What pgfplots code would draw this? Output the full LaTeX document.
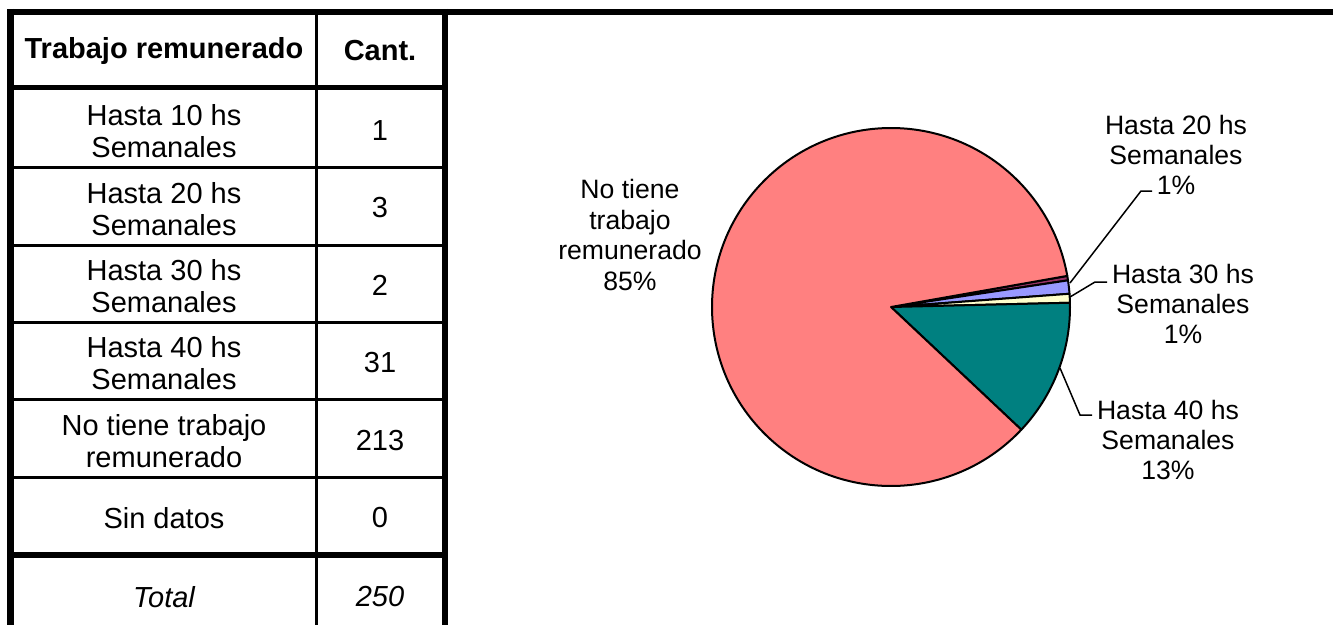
\documentclass[border=0pt]{standalone}
\usepackage{fontspec}
\setmainfont{Liberation Sans}
\usepackage{pgfplots}
\usepackage{pgfplotstable}
\pgfplotsset{compat=1.18}

\definecolor{rosa}{HTML}{FF8080}
\definecolor{verde}{HTML}{008080}
\definecolor{crema}{HTML}{FFFFCC}
\definecolor{lila}{HTML}{9999FF}
\definecolor{granate}{HTML}{993366}

\tikzset{
  tabla/.style={font=\fontsize{14.5bp}{16bp}\selectfont, align=center, inner sep=0pt},
  etiq/.style={font=\fontsize{13.3bp}{15.2bp}\selectfont, align=center, inner sep=0pt},
}

% cantidades por categoria (total 250)
\pgfplotstableread{
cat cnt col
h10 1 granate
h20 3 lila
h30 2 crema
h40 31 verde
no 213 rosa
sd 0 rosa
}\datos

\begin{document}
\begin{tikzpicture}
\begin{axis}[
    width=666.5bp, height=312.5bp, scale only axis,
    xmin=0, xmax=1333, ymin=0, ymax=625, y dir=reverse,
    hide axis,
]
\path (rel axis cs:0,0) rectangle (rel axis cs:1,1);

% --- tabla ---
\draw[line width=3bp] (axis cs:7,12) -- (axis cs:1333,12);
\draw[line width=3.2bp] (axis cs:10.5,9) -- (axis cs:10.5,625);
\draw[line width=3.2bp] (axis cs:445,9) -- (axis cs:445,625);
\draw[line width=1.8bp] (axis cs:316.5,12) -- (axis cs:316.5,625);
\draw[line width=2.7bp] (axis cs:10,87.5) -- (axis cs:445,87.5);
\foreach \yy in {167,245,322.5,399.5,477}{
  \edef\temp{\noexpand\draw[line width=1.5bp] (axis cs:10,\yy) -- (axis cs:445,\yy);}\temp
}
\draw[line width=2.8bp] (axis cs:10,555) -- (axis cs:445,555);

\node[tabla] at (axis cs:164,51) {\bfseries Trabajo remunerado};
\node[tabla] at (axis cs:380,51) {\bfseries Cant.};
\node[tabla] at (axis cs:164,131) {Hasta 10 hs\\Semanales};
\node[tabla] at (axis cs:380,131) {1};
\node[tabla] at (axis cs:164,209) {Hasta 20 hs\\Semanales};
\node[tabla] at (axis cs:380,208) {3};
\node[tabla] at (axis cs:164,286) {Hasta 30 hs\\Semanales};
\node[tabla] at (axis cs:380,285) {2};
\node[tabla] at (axis cs:164,363) {Hasta 40 hs\\Semanales};
\node[tabla] at (axis cs:380,363) {31};
\node[tabla] at (axis cs:164,441) {No tiene trabajo\\remunerado};
\node[tabla] at (axis cs:380,441) {213};
\node[tabla] at (axis cs:164,518) {Sin datos};
\node[tabla] at (axis cs:380,518) {0};
\node[tabla] at (axis cs:164,597) {\itshape Total};
\node[tabla] at (axis cs:380,597) {\itshape 250};

% --- torta ---
\pgfplotstablegetrowsof{\datos}
\pgfmathtruncatemacro\nfilas{\pgfplotsretval-1}
\xdef\angulo{10}
\foreach \i in {0,...,\nfilas}{
  \pgfplotstablegetelem{\i}{cnt}\of\datos \let\v\pgfplotsretval
  \pgfplotstablegetelem{\i}{col}\of\datos \let\c\pgfplotsretval
  \ifnum\v>0
    \pgfmathsetmacro\fin{\angulo-\v/250*360}
    \edef\temp{\noexpand\filldraw[fill=\c, draw=black, line width=1bp, line join=round]
      (axis cs:891,307) -- ++(\angulo:89.5bp)
      arc[start angle=\angulo, end angle=\fin, radius=89.5bp] -- cycle;}
    \temp
    \xdef\angulo{\fin}
  \fi
}

\draw[line width=0.75bp] (axis cs:1070,283) -- (axis cs:1141,191) -- (axis cs:1152,191);
\draw[line width=0.75bp] (axis cs:1070,297) -- (axis cs:1095,282) -- (axis cs:1107,282);
\draw[line width=0.75bp] (axis cs:1060,368) -- (axis cs:1080,415) -- (axis cs:1092,415);

\node[etiq] at (axis cs:630,235) {No tiene\\trabajo\\remunerado\\85\%};
\node[etiq] at (axis cs:1176,155) {Hasta 20 hs\\Semanales\\1\%};
\node[etiq] at (axis cs:1183,304) {Hasta 30 hs\\Semanales\\1\%};
\node[etiq] at (axis cs:1168,440) {Hasta 40 hs\\Semanales\\13\%};
\end{axis}
\end{tikzpicture}
\end{document}
